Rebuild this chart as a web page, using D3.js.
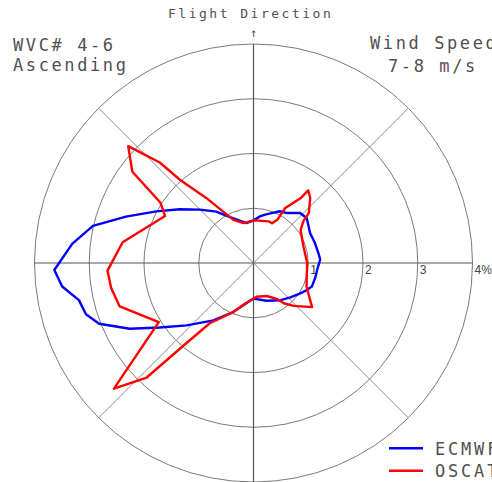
<!DOCTYPE html>
<html>
<head>
<meta charset="utf-8">
<script src="https://cdn.jsdelivr.net/npm/d3@7"></script>
<style>
  body { margin: 0; background: #fff; }
  svg { display: block; }
  .lbl { font-family: "DejaVu Sans Mono", monospace; fill: #505050; }
</style>
</head>
<body>
<div id="chart"></div>
<script>
// rings (percent) and their labels
var ringValues = [1, 2, 3, 4]
var ringLabels = ["1", "2", "3", "4%"]
var spokeAngles = [0, 45, 90, 135, 180, 225, 270, 315]

// ECMWF distribution: angle (deg, clockwise from flight direction) and percent
var ecmwfAngle = [0, 8, 13.5, 20, 27, 34, 43, 50, 62, 72, 81.5, 87, 96, 103, 112, 117, 123, 133, 144, 161, 180,
    202.5, 215, 227, 235.5, 242, 248.5, 253, 258, 263, 268, 276, 283, 290, 298, 306, 315, 324, 333, 350]
var ecmwfPct = [0.78, 0.86, 0.91, 0.97, 1.06, 1.10, 1.25, 1.27, 1.17, 1.18, 1.20, 1.22, 1.17, 1.16, 1.15, 1.09, 1.02, 0.92, 0.84, 0.73, 0.65,
    0.97, 1.28, 1.67, 2.08, 2.56, 3.03, 3.20, 3.26, 3.52, 3.64, 3.33, 3.01, 2.48, 2.01, 1.67, 1.38, 1.16, 0.94, 0.74]

// OSCAT distribution
var oscatAngle = [0, 20, 25, 29, 30, 36, 37, 41, 48, 50, 55, 72, 90, 108, 114, 127, 137, 143, 147, 158, 175, 192,
    202.5, 216, 220, 223, 228, 238, 252, 260, 267, 279, 298, 303, 307, 313, 317, 318.5, 324, 335, 346]
var oscatPct = [0.78, 0.81, 0.80, 0.91, 1.16, 1.46, 1.66, 1.58, 1.36, 1.19, 1.05, 0.96, 0.98, 1.02, 1.06, 1.34, 1.07, 0.92, 0.78, 0.65, 0.62, 0.76,
    0.97, 1.36, 1.92, 2.86, 3.43, 2.04, 2.57, 2.64, 2.67, 2.42, 1.83, 2.03, 2.77, 3.13, 2.51, 2.03, 1.47, 0.87, 0.75]

var seriesNames = ["ECMWF", "OSCAT"]
var seriesColors = ["#0000ff", "#ff0000"]

var width = 492, height = 482
var cx = 253.5, cy = 263
var R = 219

var svg = d3.select("#chart").append("svg")
    .attr("width", width)
    .attr("height", height)

svg.append("rect").attr("width", width).attr("height", height).attr("fill", "#fff")

var r = d3.scaleLinear().domain([0, 4]).range([0, R])

var g = svg.append("g").attr("transform", "translate(" + cx + "," + cy + ")")

// rings
g.selectAll(".ring")
    .data(ringValues)
    .enter().append("circle")
    .attr("class", "ring")
    .attr("r", function (d) { return r(d) })
    .attr("fill", "none")
    .attr("stroke", "#7a7a7a")
    .attr("stroke-width", 1)

// spokes
g.selectAll(".spoke")
    .data(spokeAngles)
    .enter().append("line")
    .attr("class", "spoke")
    .attr("x1", 0).attr("y1", 0)
    .attr("x2", function (d) { return r(4) * Math.sin(d * Math.PI / 180) })
    .attr("y2", function (d) { return -r(4) * Math.cos(d * Math.PI / 180) })
    .attr("stroke", function (d) { return d % 90 == 0 ? "#555" : "#8a8a8a" })
    .attr("stroke-width", function (d) { return d % 90 == 0 ? 1.2 : 1 })

// ring labels along the positive x axis
g.selectAll(".rlab")
    .data(ringValues)
    .enter().append("text")
    .attr("x", function (d) { return r(d) + 2 })
    .attr("y", 11)
    .attr("font-family", "Liberation Sans, Arial, sans-serif")
    .attr("font-size", 12)
    .attr("fill", "#444")
    .text(function (d, i) { return ringLabels[i] })

// curves
var line = d3.lineRadial()
    .angle(function (d) { return d[0] * Math.PI / 180 })
    .radius(function (d) { return r(d[1]) })
    .curve(d3.curveLinearClosed)

var series = [d3.zip(ecmwfAngle, ecmwfPct), d3.zip(oscatAngle, oscatPct)]

g.selectAll(".curve")
    .data(series)
    .enter().append("path")
    .attr("class", "curve")
    .attr("d", line)
    .attr("fill", "none")
    .attr("stroke", function (d, i) { return seriesColors[i] })
    .attr("stroke-width", 2.4)
    .attr("stroke-linejoin", "round")

// text
svg.append("text").attr("class", "lbl").attr("x", 168).attr("y", 18)
    .attr("font-size", 13).attr("letter-spacing", 2.5).text("Flight Direction")
svg.append("text").attr("class", "lbl").attr("x", cx).attr("y", 37)
    .attr("text-anchor", "middle").attr("font-size", 12).text("↑")

svg.append("text").attr("class", "lbl").attr("x", 13).attr("y", 50.5)
    .attr("font-size", 17).attr("letter-spacing", 2.6).text("WVC# 4-6")
svg.append("text").attr("class", "lbl").attr("x", 13).attr("y", 71)
    .attr("font-size", 17).attr("letter-spacing", 2.6).text("Ascending")
svg.append("text").attr("class", "lbl").attr("x", 370).attr("y", 49)
    .attr("font-size", 17).attr("letter-spacing", 2.6).text("Wind Speed")
svg.append("text").attr("class", "lbl").attr("x", 388).attr("y", 71.5)
    .attr("font-size", 17).attr("letter-spacing", 2.6).text("7-8 m/s")

// legend
var legend = svg.selectAll(".leg")
    .data(seriesNames)
    .enter().append("g")
    .attr("transform", function (d, i) { return "translate(389," + (448.3 + i * 22.4) + ")" })

legend.append("line")
    .attr("x1", 0).attr("x2", 34)
    .attr("stroke", function (d, i) { return seriesColors[i] })
    .attr("stroke-width", 2.4)

legend.append("text")
    .attr("class", "lbl")
    .attr("x", 46).attr("y", 6.5)
    .attr("font-size", 17).attr("letter-spacing", 2.8)
    .text(function (d) { return d })
</script>
</body>
</html>
